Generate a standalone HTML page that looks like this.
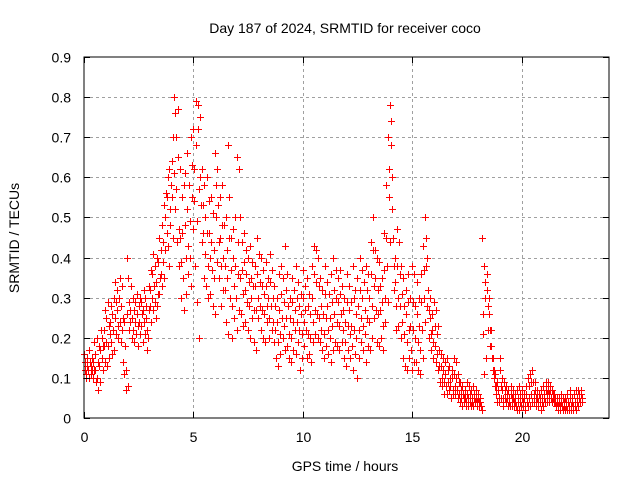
<!DOCTYPE html>
<html><head><meta charset="utf-8"><style>
body{margin:0;background:#fff;}
svg text{font-family:"Liberation Sans",sans-serif;font-size:14px;fill:#000;}
</style></head><body>
<svg id="chart" width="640" height="480" xmlns="http://www.w3.org/2000/svg">
<rect width="640" height="480" fill="#fff"/>
<g id="grid"></g>
<g id="marks"></g>
<rect x="84" y="57" width="525" height="361" fill="none" stroke="#000" stroke-width="1"/>
<g id="axes"></g>
<text x="345" y="33" text-anchor="middle">Day 187 of 2024, SRMTID for receiver coco</text>
<text x="345" y="471" text-anchor="middle">GPS time / hours</text>
<text transform="translate(19,238) rotate(-90)" text-anchor="middle">SRMTID / TECUs</text>
</svg>
<script>
const xTicks=[0,5,10,15,20];
const yTicks=[0,0.1,0.2,0.3,0.4,0.5,0.6,0.7,0.8,0.9];
const yTickLabels=["0","0.1","0.2","0.3","0.4","0.5","0.6","0.7","0.8","0.9"];
const xTickLabels=["0","5","10","15","20"];
const hourStep=0.1;
const tecuRows=[
[16,12,14,10],[11,15,13,12],[12,10,17,14],[13,11,15,12],[14,10,12,19],[12,16,9,20],[10,7,14,18],[13,17,9,22],[20,15,18,12],[22,18,14,27],
[19,25,13,29],[18,23,15,21],[24,19,28,16],[26,22,30,17],[25,34,21,29],[27,32,23,20],[30,24,35,19],[28,22,33,25],[14,11,24,18],[7,12,26,40],
[8,35,29,22],[27,24,33,20],[25,22,30,19],[27,24,29,21],[26,31,23,18],[24,28,21,30],[29,23,26,19],[27,32,24,21],[30,25,28,22],[17,20,27,33],
[28,32,24,37],[30,36,27,41],[33,29,38,25],[34,28,40,31],[39,31,45,35],[42,36,48,33],[44,39,53,35],[50,42,56,46],[55,43,60,38],[62,48,52,58],
[64,55,45,70],[80,61,52,76],[70,57,44,65],[77,47,38,62],[45,39,30,55],[46,35,27,58],[61,48,40,31],[66,52,43,36],[58,49,40,33],[70,63,55,47],
[72,62,54,38],[79,68,49,29],[78,72,57,20],[75,60,53,44],[62,53,46,35],[58,50,41,33],[60,46,38,30],[54,46,40,31],[44,55,37,28],[51,42,35,26],
[66,58,50,39],[62,53,44,35],[55,45,38,28],[58,48,40,32],[48,38,32,24],[50,42,35,21],[68,55,45,30],[45,37,28,20],[47,40,33,25],[50,38,30,22],
[65,44,36,27],[62,50,35,26],[44,37,31,23],[46,39,32,24],[42,36,29,22],[40,34,28,20],[43,35,30,25],[39,33,27,19],[38,33,27,17],[45,36,30,25],
[41,34,28,22],[40,33,27,20],[37,31,26,19],[39,33,28,24],[35,30,25,20],[41,34,28,22],[37,30,24,19],[33,28,22,15],[30,24,19,13],[36,27,21,16],
[38,31,25,20],[35,29,23,17],[43,32,25,18],[36,28,21,15],[30,25,20,14],[35,29,24,17],[32,27,22,16],[38,30,24,19],[34,28,22,12],[31,26,21,15],
[37,30,24,18],[33,27,22,15],[35,28,21,16],[31,26,20,14],[38,30,24,19],[43,36,27,21],[42,34,26,20],[40,33,25,19],[35,28,22,17],[32,26,21,15],
[38,31,25,18],[34,28,22,16],[31,25,20,14],[36,29,23,17],[40,32,26,19],[37,30,24,18],[35,29,23,17],[37,31,26,19],[33,27,22,15],[30,24,19,13],
[36,29,23,17],[33,27,21,15],[29,23,18,12],[38,30,22,16],[32,26,20,10],[35,28,22,15],[40,32,25,19],[37,30,23,17],[34,27,21,14],[38,32,25,18],
[36,30,24,17],[44,36,28,20],[50,42,33,25],[42,35,27,19],[40,32,26,18],[39,33,27,20],[35,29,23,17],[46,37,30,24],[58,45,38,29],[70,62,55,44],
[78,74,68,60],[52,45,38,32],[40,34,28,22],[47,38,30,23],[44,36,28,20],[38,31,24,15],[35,28,21,13],[32,26,19,12],[36,29,22,15],[30,23,17,12],
[38,29,22,14],[36,28,20,14],[34,26,19,12],[30,23,17,11],[36,29,22,15],[43,37,30,24],[50,45,38,28],[40,32,27,20],[30,25,21,17],[26,22,19,15],
[29,23,18,14],[27,21,16,12],[23,17,13,9],[16,13,10,8],[15,12,9,6],[14,11,8,6],[15,12,9,7],[13,10,8,5],[12,10,7,6],[15,11,8,6],
[14,10,7,5],[11,9,6,4],[9,7,5,3],[8,6,5,4],[7,5,4,3],[9,6,5,3],[8,6,4,3],[7,5,4,3],[8,6,5,4],[7,5,4,3],
[6,5,4,3],[5,4,3,2],[45,26,21,11],[38,34,30,15],[36,32,28,22],[30,26,22,18],[22,18,15,12],[15,12,10,8],[11,8,6,4],[9,7,5,4],
[15,12,8,5],[10,7,5,3],[9,7,5,4],[8,6,5,3],[7,5,4,3],[8,6,5,3],[7,5,4,3],[6,4,3,2],[7,5,4,2],[8,6,4,3],
[7,5,4,3],[6,5,3,2],[8,6,4,3],[10,8,5,3],[11,9,6,4],[12,9,6,4],[9,7,5,3],[7,5,4,3],[6,5,4,2],[7,5,4,3],
[8,6,5,4],[9,7,6,4],[9,7,6,4],[8,7,5,4],[7,6,5,4],[6,5,4,3],[5,4,3,2],[5,4,3,2],[6,4,3,2],[5,4,3,2],
[5,4,3,2],[6,4,3,2],[7,5,3,2],[5,4,3,2],[6,4,3,2],[7,5,4,3],[7,6,5,4],[7,6,5,4]
];
const NS="http://www.w3.org/2000/svg";
const X0=84,X1=609,Y0=418,Y1=57;
function xs(h){return X0+(h/24)*(X1-X0);}
function ys(v){return Y0-(v/0.9)*(Y0-Y1);}
const grid=document.getElementById('grid'),axes=document.getElementById('axes'),marks=document.getElementById('marks');
function mk(tag,attrs,parent){const e=document.createElementNS(NS,tag);for(const k in attrs)e.setAttribute(k,attrs[k]);parent.appendChild(e);return e;}
yTicks.forEach((v,i)=>{
  const y=Math.round(ys(v))+0.5;
  if(i>0&&i<yTicks.length-1){const g=mk('line',{x1:X0,x2:X1,y1:y,y2:y,stroke:'#a0a0a0','stroke-dasharray':'3,3'},grid);
  
  }
  const t=mk('line',{x1:X0,x2:X0+6,y1:y,y2:y,stroke:'#000'},axes);
  
  
  const t2=mk('line',{x1:X1-6,x2:X1,y1:y,y2:y,stroke:'#000'},axes);
  
  
  const l=mk('text',{x:X0-13,y:y+5,'text-anchor':'end'},axes);l.textContent=yTickLabels[i];
  
  
});
xTicks.forEach((h,i)=>{
  const x=Math.round(xs(h))+0.5;
  if(i>0){const g=mk('line',{x1:x,x2:x,y1:Y1,y2:Y0,stroke:'#a0a0a0','stroke-dasharray':'3,3'},grid);
  
  }
  const t=mk('line',{x1:x,x2:x,y1:Y0-6,y2:Y0,stroke:'#000'},axes);
  
  
  const t2=mk('line',{x1:x,x2:x,y1:Y1,y2:Y1+6,stroke:'#000'},axes);
  
  
  const l=mk('text',{x:x,y:Y0+24,'text-anchor':'middle'},axes);l.textContent=xTickLabels[i];
  
  
});
let d='';
tecuRows.forEach((row,i)=>{
  const h=i*hourStep;
  row.forEach((v,j)=>{
    const x=Math.round(xs(h+j*0.025))+0.5,y=Math.round(ys(v/100))+0.5;
    d+=`M${x-3.5},${y}h7M${x},${y-3.5}v7`;
  });
});
const p=mk('path',{d:d,stroke:'#f00','stroke-width':1,fill:'none'},marks);


</script>
</body></html>
